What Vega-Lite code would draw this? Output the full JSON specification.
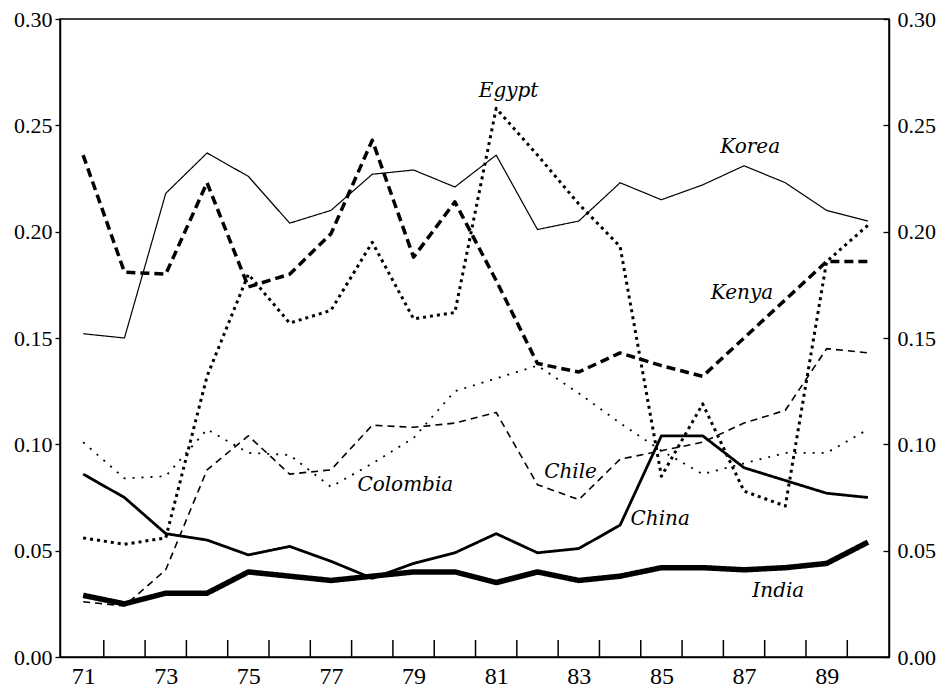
{
  "$schema": "https://vega.github.io/schema/vega-lite/v6.json",
  "width": 829,
  "height": 638,
  "autosize": {"type": "none"},
  "padding": {"left": 60, "top": 19, "right": 56, "bottom": 31},
  "background": "white",
  "config": {
    "view": {"stroke": "black", "strokeWidth": 1.5},
    "axis": {"domainColor": "black", "tickColor": "black", "labelColor": "black", "grid": false, "labelFont": "Liberation Serif", "domainWidth": 1.5, "tickWidth": 1.3}
  },
  "datasets": {
    "series": [
      {"country": "Korea", "year": 71, "value": 0.152}, {"country": "Korea", "year": 72, "value": 0.150}, {"country": "Korea", "year": 73, "value": 0.218}, {"country": "Korea", "year": 74, "value": 0.237}, {"country": "Korea", "year": 75, "value": 0.226}, {"country": "Korea", "year": 76, "value": 0.204}, {"country": "Korea", "year": 77, "value": 0.210}, {"country": "Korea", "year": 78, "value": 0.227}, {"country": "Korea", "year": 79, "value": 0.229}, {"country": "Korea", "year": 80, "value": 0.221}, {"country": "Korea", "year": 81, "value": 0.236}, {"country": "Korea", "year": 82, "value": 0.201}, {"country": "Korea", "year": 83, "value": 0.205}, {"country": "Korea", "year": 84, "value": 0.223}, {"country": "Korea", "year": 85, "value": 0.215}, {"country": "Korea", "year": 86, "value": 0.222}, {"country": "Korea", "year": 87, "value": 0.231}, {"country": "Korea", "year": 88, "value": 0.223}, {"country": "Korea", "year": 89, "value": 0.210}, {"country": "Korea", "year": 90, "value": 0.205},
      {"country": "Kenya", "year": 71, "value": 0.236}, {"country": "Kenya", "year": 72, "value": 0.181}, {"country": "Kenya", "year": 73, "value": 0.180}, {"country": "Kenya", "year": 74, "value": 0.223}, {"country": "Kenya", "year": 75, "value": 0.174}, {"country": "Kenya", "year": 76, "value": 0.180}, {"country": "Kenya", "year": 77, "value": 0.199}, {"country": "Kenya", "year": 78, "value": 0.243}, {"country": "Kenya", "year": 79, "value": 0.188}, {"country": "Kenya", "year": 80, "value": 0.214}, {"country": "Kenya", "year": 81, "value": 0.177}, {"country": "Kenya", "year": 82, "value": 0.138}, {"country": "Kenya", "year": 83, "value": 0.134}, {"country": "Kenya", "year": 84, "value": 0.143}, {"country": "Kenya", "year": 85, "value": 0.137}, {"country": "Kenya", "year": 86, "value": 0.132}, {"country": "Kenya", "year": 87, "value": 0.150}, {"country": "Kenya", "year": 88, "value": 0.168}, {"country": "Kenya", "year": 89, "value": 0.186}, {"country": "Kenya", "year": 90, "value": 0.186},
      {"country": "Egypt", "year": 71, "value": 0.056}, {"country": "Egypt", "year": 72, "value": 0.053}, {"country": "Egypt", "year": 73, "value": 0.056}, {"country": "Egypt", "year": 74, "value": 0.132}, {"country": "Egypt", "year": 75, "value": 0.180}, {"country": "Egypt", "year": 76, "value": 0.157}, {"country": "Egypt", "year": 77, "value": 0.163}, {"country": "Egypt", "year": 78, "value": 0.195}, {"country": "Egypt", "year": 79, "value": 0.159}, {"country": "Egypt", "year": 80, "value": 0.162}, {"country": "Egypt", "year": 81, "value": 0.258}, {"country": "Egypt", "year": 82, "value": 0.236}, {"country": "Egypt", "year": 83, "value": 0.213}, {"country": "Egypt", "year": 84, "value": 0.193}, {"country": "Egypt", "year": 85, "value": 0.085}, {"country": "Egypt", "year": 86, "value": 0.119}, {"country": "Egypt", "year": 87, "value": 0.078}, {"country": "Egypt", "year": 88, "value": 0.071}, {"country": "Egypt", "year": 89, "value": 0.186}, {"country": "Egypt", "year": 90, "value": 0.203},
      {"country": "Colombia", "year": 71, "value": 0.101}, {"country": "Colombia", "year": 72, "value": 0.084}, {"country": "Colombia", "year": 73, "value": 0.085}, {"country": "Colombia", "year": 74, "value": 0.107}, {"country": "Colombia", "year": 75, "value": 0.096}, {"country": "Colombia", "year": 76, "value": 0.095}, {"country": "Colombia", "year": 77, "value": 0.080}, {"country": "Colombia", "year": 78, "value": 0.091}, {"country": "Colombia", "year": 79, "value": 0.103}, {"country": "Colombia", "year": 80, "value": 0.125}, {"country": "Colombia", "year": 81, "value": 0.131}, {"country": "Colombia", "year": 82, "value": 0.137}, {"country": "Colombia", "year": 83, "value": 0.124}, {"country": "Colombia", "year": 84, "value": 0.110}, {"country": "Colombia", "year": 85, "value": 0.097}, {"country": "Colombia", "year": 86, "value": 0.086}, {"country": "Colombia", "year": 87, "value": 0.091}, {"country": "Colombia", "year": 88, "value": 0.096}, {"country": "Colombia", "year": 89, "value": 0.096}, {"country": "Colombia", "year": 90, "value": 0.107},
      {"country": "Chile", "year": 71, "value": 0.026}, {"country": "Chile", "year": 72, "value": 0.024}, {"country": "Chile", "year": 73, "value": 0.041}, {"country": "Chile", "year": 74, "value": 0.088}, {"country": "Chile", "year": 75, "value": 0.104}, {"country": "Chile", "year": 76, "value": 0.086}, {"country": "Chile", "year": 77, "value": 0.088}, {"country": "Chile", "year": 78, "value": 0.109}, {"country": "Chile", "year": 79, "value": 0.108}, {"country": "Chile", "year": 80, "value": 0.110}, {"country": "Chile", "year": 81, "value": 0.115}, {"country": "Chile", "year": 82, "value": 0.081}, {"country": "Chile", "year": 83, "value": 0.074}, {"country": "Chile", "year": 84, "value": 0.093}, {"country": "Chile", "year": 85, "value": 0.097}, {"country": "Chile", "year": 86, "value": 0.101}, {"country": "Chile", "year": 87, "value": 0.110}, {"country": "Chile", "year": 88, "value": 0.116}, {"country": "Chile", "year": 89, "value": 0.145}, {"country": "Chile", "year": 90, "value": 0.143},
      {"country": "China", "year": 71, "value": 0.086}, {"country": "China", "year": 72, "value": 0.075}, {"country": "China", "year": 73, "value": 0.058}, {"country": "China", "year": 74, "value": 0.055}, {"country": "China", "year": 75, "value": 0.048}, {"country": "China", "year": 76, "value": 0.052}, {"country": "China", "year": 77, "value": 0.045}, {"country": "China", "year": 78, "value": 0.037}, {"country": "China", "year": 79, "value": 0.044}, {"country": "China", "year": 80, "value": 0.049}, {"country": "China", "year": 81, "value": 0.058}, {"country": "China", "year": 82, "value": 0.049}, {"country": "China", "year": 83, "value": 0.051}, {"country": "China", "year": 84, "value": 0.062}, {"country": "China", "year": 85, "value": 0.104}, {"country": "China", "year": 86, "value": 0.104}, {"country": "China", "year": 87, "value": 0.089}, {"country": "China", "year": 88, "value": 0.083}, {"country": "China", "year": 89, "value": 0.077}, {"country": "China", "year": 90, "value": 0.075},
      {"country": "India", "year": 71, "value": 0.029}, {"country": "India", "year": 72, "value": 0.025}, {"country": "India", "year": 73, "value": 0.030}, {"country": "India", "year": 74, "value": 0.030}, {"country": "India", "year": 75, "value": 0.040}, {"country": "India", "year": 76, "value": 0.038}, {"country": "India", "year": 77, "value": 0.036}, {"country": "India", "year": 78, "value": 0.038}, {"country": "India", "year": 79, "value": 0.040}, {"country": "India", "year": 80, "value": 0.040}, {"country": "India", "year": 81, "value": 0.035}, {"country": "India", "year": 82, "value": 0.040}, {"country": "India", "year": 83, "value": 0.036}, {"country": "India", "year": 84, "value": 0.038}, {"country": "India", "year": 85, "value": 0.042}, {"country": "India", "year": 86, "value": 0.042}, {"country": "India", "year": 87, "value": 0.041}, {"country": "India", "year": 88, "value": 0.042}, {"country": "India", "year": 89, "value": 0.044}, {"country": "India", "year": 90, "value": 0.054}
    ],
    "labels": [
      {"label": "Egypt", "year": 81.3, "value": 0.266},
      {"label": "Korea", "year": 87.15, "value": 0.240},
      {"label": "Kenya", "year": 86.95, "value": 0.171},
      {"label": "Chile", "year": 82.8, "value": 0.087},
      {"label": "Colombia", "year": 78.8, "value": 0.081},
      {"label": "China", "year": 84.97, "value": 0.065},
      {"label": "India", "year": 87.83, "value": 0.031}
    ],
    "yearEdges": [
      {"edge": 71.5}, {"edge": 72.5}, {"edge": 73.5}, {"edge": 74.5}, {"edge": 75.5}, {"edge": 76.5}, {"edge": 77.5}, {"edge": 78.5}, {"edge": 79.5}, {"edge": 80.5},
      {"edge": 81.5}, {"edge": 82.5}, {"edge": 83.5}, {"edge": 84.5}, {"edge": 85.5}, {"edge": 86.5}, {"edge": 87.5}, {"edge": 88.5}, {"edge": 89.5}
    ]
  },
  "resolve": {"axis": {"y": "independent"}},
  "layer": [
    {
      "data": {"name": "yearEdges"},
      "mark": {"type": "rule", "color": "black", "strokeWidth": 1.5},
      "encoding": {
        "x": {"field": "edge", "type": "quantitative",
          "scale": {"domain": [70.44, 90.51], "nice": false, "zero": false},
          "axis": {"values": [71, 73, 75, 77, 79, 81, 83, 85, 87, 89], "ticks": false, "labelPadding": 7, "labelFontSize": 24, "labelFlush": false, "format": "d", "title": null, "orient": "bottom"}},
        "y": {"datum": 0, "type": "quantitative",
          "scale": {"domain": [0, 0.3], "nice": false},
          "axis": {"values": [0, 0.05, 0.1, 0.15, 0.2, 0.25, 0.3], "format": ".2f", "tickSize": 5, "labelPadding": 3, "labelFontSize": 22, "title": null, "orient": "left", "labelFlush": false}},
        "y2": {"datum": 0.008}
      }
    },
    {
      "data": {"name": "series"},
      "mark": {"type": "line", "strokeCap": "butt", "strokeJoin": "round"},
      "encoding": {
        "x": {"field": "year", "type": "quantitative",
          "scale": {"domain": [70.44, 90.51], "nice": false, "zero": false}},
        "y": {"field": "value", "type": "quantitative",
          "scale": {"domain": [0, 0.3], "nice": false}, "axis": null},
        "color": {"value": "black"},
        "detail": {"field": "country", "type": "nominal"},
        "strokeDash": {"field": "country", "type": "nominal", "legend": null,
          "scale": {"domain": ["Korea", "Kenya", "Egypt", "Colombia", "Chile", "China", "India"],
                    "range": [[1, 0], [9, 5], [3, 4], [2, 7], [7, 5], [1, 0], [1, 0]]}},
        "strokeWidth": {"field": "country", "type": "nominal", "legend": null,
          "scale": {"type": "ordinal", "domain": ["Korea", "Kenya", "Egypt", "Colombia", "Chile", "China", "India"],
                    "range": [1.2, 3.5, 3, 1.8, 1.6, 2.8, 5.5]}}
      }
    },
    {
      "data": {"name": "labels"},
      "mark": {"type": "text", "font": "DejaVu Serif", "fontStyle": "italic", "fontSize": 20, "align": "center", "baseline": "middle", "color": "black"},
      "encoding": {
        "x": {"field": "year", "type": "quantitative",
          "scale": {"domain": [70.44, 90.51], "nice": false, "zero": false}},
        "y": {"field": "value", "type": "quantitative",
          "scale": {"domain": [0, 0.3], "nice": false},
          "axis": {"values": [0, 0.05, 0.1, 0.15, 0.2, 0.25, 0.3], "format": ".2f", "tickSize": -6, "labelPadding": 14, "labelFontSize": 22, "title": null, "orient": "right", "labelFlush": false}},
        "text": {"field": "label", "type": "nominal"}
      }
    }
  ]
}
